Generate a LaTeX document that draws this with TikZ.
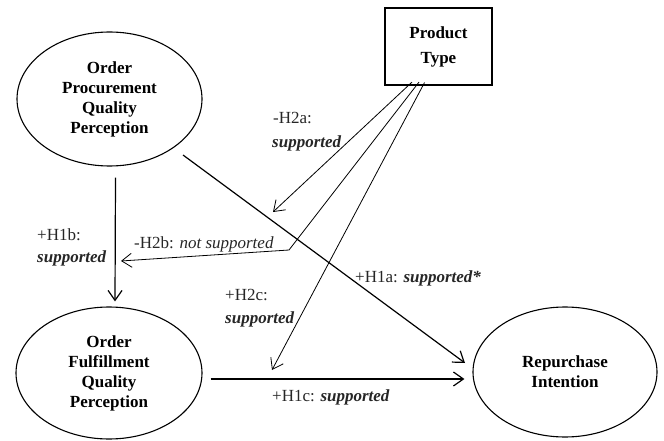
\documentclass[tikz,border=0pt]{standalone}
\usepackage{fontspec}
\setmainfont{Liberation Serif}
\usetikzlibrary{shapes.geometric,arrows.meta}
\begin{document}
\begin{tikzpicture}[x=1pt,y=-1pt,
  construct/.style={ellipse,draw,line width=1.1pt,inner sep=0pt,align=center,
    font=\fontsize{17}{20}\selectfont\bfseries},
  moderator/.style={rectangle,draw,line width=1.2pt,inner sep=0pt,align=center,
    minimum width=107pt,minimum height=77pt,
    font=\fontsize{17}{25}\selectfont\bfseries},
  lbl/.style={anchor=base west,inner sep=0pt,text=black!85,
    font=\fontsize{17}{20}\selectfont},
  tip/.style={-{Straight Barb[length=10pt,width=14pt]}},
  mainarrow/.style={tip,line width=1.2pt},
  modarrow/.style={tip,line width=0.8pt},
]
\useasboundingbox (0,0) rectangle (664,441);

% constructs
\node[construct,minimum width=185pt,minimum height=134pt] (opqp) at (109.5,99)
  {Order\\Procurement\\Quality\\Perception};
\node[construct,minimum width=186pt,minimum height=132pt] (ofqp) at (109,373)
  {Order\\Fulfillment\\Quality\\Perception};
\node[construct,minimum width=184pt,minimum height=130pt] (ri) at (565,372)
  {Repurchase\\Intention};
\node[moderator] (pt) at (438.5,46.5) {Product\\Type};

% end points of the moderating paths
\coordinate (m2a) at ([shift={(-26.5,-3.5)}]pt.south);
\coordinate (m2b) at ([shift={(-19.5,-3.5)}]pt.south);
\coordinate (m2c) at ([shift={(-14,-3)}]pt.south);
\coordinate (e2a) at (273,212);
\coordinate (k2b) at (289,250);
\coordinate (e2b) at (121,261);
\coordinate (e2c) at (272,370);

% main effects
\draw[mainarrow] ([shift={(6,11)}]opqp.south) -- ([shift={(6,-5)}]ofqp.north);
\draw[mainarrow] ([shift={(73.5,56)}]opqp.center) -- ([shift={(-100,-9)}]ri.center);
\draw[mainarrow] ([shift={(8,6)}]ofqp.east) -- ([shift={(-8,7)}]ri.west);

% moderating effects
\draw[modarrow] (m2a) -- (e2a);
\draw[modarrow] (m2b) -- (k2b) -- (e2b);
\draw[modarrow] (m2c) -- (e2c);

% path labels
\node[lbl] (l2a) at (273,124) {-H2a:};
\node[lbl] (l2as) at (272,148) {\textbf{\textit{supported}}};
\node[lbl] (l1b) at (37,240) {+H1b:};
\node[lbl] (l1bs) at (37,262) {\textbf{\textit{supported}}};
\node[lbl] (l2b) at (134,248) {-H2b: \textit{not supported}};
\node[lbl] (l1a) at (355,282) {+H1a: \textbf{\textit{supported*}}};
\node[lbl] (l2c) at (225,300) {+H2c:};
\node[lbl] (l2cs) at (225,323) {\textbf{\textit{supported}}};
\node[lbl] (l1c) at (272,401) {+H1c: \textbf{\textit{supported}}};
\end{tikzpicture}
\end{document}
